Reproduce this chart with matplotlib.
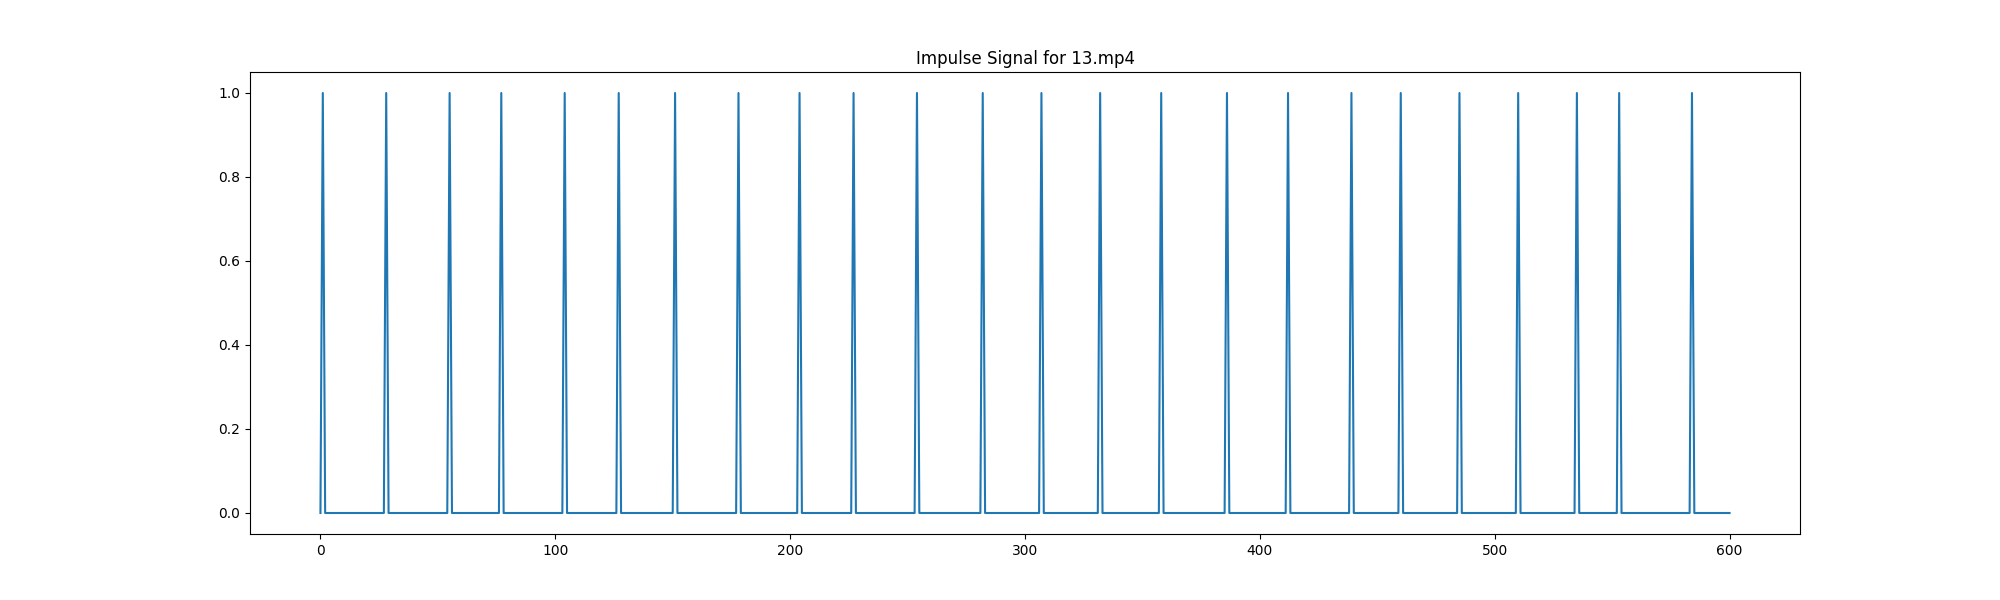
import numpy as np
import matplotlib
matplotlib.use("Agg")
import matplotlib.pyplot as plt

# frame indices where an impulse occurs
n_frames = 601
impulse_frames = [1, 28, 55, 77, 104, 127, 151, 178, 204, 227, 254, 282, 307,
                  332, 358, 386, 412, 439, 460, 485, 510, 535, 553, 584]
video_name = "13.mp4"

signal = np.zeros(n_frames)
signal[impulse_frames] = 1

fig = plt.figure(figsize=(20, 6), dpi=100)
plt.plot(signal)
plt.title(f"Impulse Signal for {video_name}")
fig.savefig("out.png")
